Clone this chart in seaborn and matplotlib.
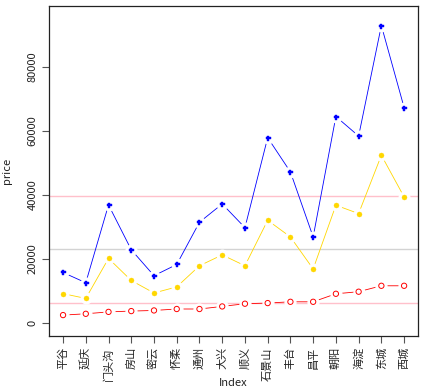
import matplotlib
matplotlib.use("Agg")
import matplotlib.pyplot as plt
import pandas as pd
import seaborn as sns

districts = ['平谷', '延庆', '门头沟', '房山', '密云', '怀柔', '通州', '大兴',
             '顺义', '石景山', '丰台', '昌平', '朝阳', '海淀', '东城', '西城']
price_max = [15800, 12600, 36900, 22900, 14800, 18300, 31500, 37200,
             29800, 57900, 47200, 26900, 64500, 58400, 92900, 67300]
price_mean = [9200, 7700, 20200, 13300, 9400, 11300, 17900, 21300,
              17900, 32100, 26900, 16900, 36800, 34200, 52400, 39400]
price_min = [2500, 2900, 3500, 3750, 3950, 4400, 4400, 5200,
             6050, 6250, 6650, 6650, 9150, 9800, 11650, 11650]
hlines = [39700, 23000, 6250]
hline_colors = ['pink', 'lightgrey', 'pink']

df = pd.DataFrame({'idx': range(1, len(districts) + 1), 'max': price_max,
                   'mean': price_mean, 'min': price_min})

sns.set_style('ticks')
plt.rcParams['font.family'] = ['Noto Sans CJK SC', 'DejaVu Sans']

fig = plt.figure(figsize=(4.22, 3.89), dpi=100)
ax = fig.add_axes([0.116, 0.136, 0.875, 0.849])

for y, c in zip(hlines, hline_colors):
    ax.axhline(y, color=c, lw=1.0, zorder=1)

series = [('max', '#0000FF', 'P', 3.6, True),
          ('mean', '#FFD700', 'o', 3.6, True),
          ('min', '#FF0000', 'o', 3.8, False)]
for col, color, mk, ms, filled in series:
    sns.lineplot(data=df, x='idx', y=col, color=color, lw=0.6, ax=ax, zorder=2)
    # white halo to leave gaps around points like R type="b"
    ax.plot(df['idx'], df[col], ls='none', marker='o', ms=ms + 4,
            mfc='white', mec='white', zorder=3)
    if filled:
        sns.scatterplot(data=df, x='idx', y=col, color=color, marker=mk,
                        s=ms ** 2, edgecolor=color, linewidth=0.3, ax=ax, zorder=4)
    else:
        sns.scatterplot(data=df, x='idx', y=col, marker='o', s=ms ** 2,
                        facecolor='none', edgecolor=color, linewidth=0.7,
                        ax=ax, zorder=4)

ax.set_xlim(0.38, 16.62)
ax.set_ylim(-4060, 99060)
ax.set_xticks(df['idx'])
ax.set_xticklabels(districts, rotation=90, fontsize=8, color='#222222')
ax.set_yticks([0, 20000, 40000, 60000, 80000])
ax.set_yticklabels(['0', '20000', '40000', '60000', '80000'], rotation=90,
                   va='center', fontsize=8, color='#222222')
ax.tick_params(axis='both', length=5, width=0.8, color='#555555', pad=3)
ax.set_xlabel('Index', fontsize=8, color='#222222')
ax.set_ylabel('price', fontsize=8, color='#222222')
ax.xaxis.set_label_coords(0.5, -0.127)
ax.yaxis.set_label_coords(-0.1, 0.5)
for s in ax.spines.values():
    s.set_color('#222222')
    s.set_linewidth(0.9)

fig.savefig('out.png', dpi=100)
